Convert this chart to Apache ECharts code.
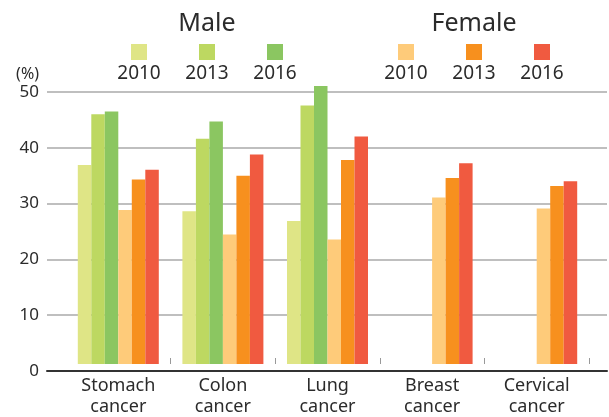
<!DOCTYPE html>
<html>
<head>
<meta charset="utf-8">
<script src="https://cdn.jsdelivr.net/npm/echarts@6/dist/echarts.min.js"></script>
<style>
  html, body { margin: 0; padding: 0; background: #fff; }
  #chart { width: 609px; height: 417px; }
</style>
</head>
<body>
<div id="chart"></div>
<script>
var categories = ['Stomach\ncancer', 'Colon\ncancer', 'Lung\ncancer', 'Breast\ncancer', 'Cervical\ncancer'];
var years = ['2010', '2013', '2016'];
var yTicks = [0, 10, 20, 30, 40, 50];

// values (%)
var male2010 = [36.6, 28.1, 26.3, null, null];
var male2013 = [45.9, 41.4, 47.5, null, null];
var male2016 = [46.4, 44.6, 51.1, null, null];
var female2010 = [28.3, 23.8, 22.9, 30.6, 28.6];
var female2013 = [33.9, 34.6, 37.5, 34.2, 32.7];
var female2016 = [35.7, 38.5, 41.8, 36.9, 33.6];

var maleColors = ['#dfe586', '#bdd861', '#8bc661'];
var femaleColors = ['#fecb7a', '#f7901e', '#f05a40'];

var font = '"Noto Sans", sans-serif';
var textColor = '#2b2b2b';

var groups = [
    {title: 'Male', values: [male2010, male2013, male2016], colors: maleColors, x: [139, 207, 275], titleX: 207},
    {title: 'Female', values: [female2010, female2013, female2016], colors: femaleColors, x: [406, 474, 542], titleX: 474}
];

var series = [];
var legends = [];
var graphics = [];
groups.forEach(function (g) {
    graphics.push({
        type: 'text', x: g.titleX, y: 24,
        style: {text: g.title, font: '25px ' + font, fill: textColor, textAlign: 'center', textVerticalAlign: 'middle'}
    });
    years.forEach(function (y, i) {
        var name = g.title + ' ' + y;
        series.push({
            name: name,
            type: 'bar',
            xAxisIndex: 1,
            yAxisIndex: 1,
            data: g.values[i],
            barWidth: 13.5,
            barGap: 0,
            clip: false,
            itemStyle: {color: g.colors[i]},
            emphasis: {disabled: true}
        });
        legends.push({
            data: [name],
            left: g.x[i] - 8,
            top: 44,
            padding: 0,
            itemWidth: 16,
            itemHeight: 16,
            icon: 'rect',
            selectedMode: false,
            formatter: function () { return ''; }
        });
        graphics.push({
            type: 'text',
            x: g.x[i], y: 74,
            style: {text: y, font: '19px ' + font, fill: textColor, textAlign: 'center', textVerticalAlign: 'middle'}
        });
    });
});

var myChart = echarts.init(document.getElementById('chart'));
myChart.setOption({
    animation: false,
    textStyle: {fontFamily: font},
    legend: legends,
    graphic: graphics,
    grid: [
        {left: 47, right: 2, top: 92, bottom: 46},
        {left: 66, right: 20, top: 92, bottom: 46}
    ],
    xAxis: [
        {
            gridIndex: 0,
            type: 'category',
            data: [''],
            axisLine: {show: true, lineStyle: {color: '#333', width: 2}},
            axisTick: {show: false},
            axisLabel: {show: false},
            z: 3
        },
        {
            gridIndex: 1,
            type: 'category',
            data: categories,
            axisLine: {show: false},
            axisTick: {
                show: true, inside: true, length: 6,
                lineStyle: {color: '#999', width: 1},
                interval: function (index) { return index > 0; }
            },
            axisLabel: {fontSize: 18, lineHeight: 21, color: textColor, margin: 11, interval: 0}
        }
    ],
    yAxis: [
        {
            gridIndex: 0,
            type: 'value',
            min: yTicks[0],
            max: yTicks[yTicks.length - 1],
            interval: yTicks[1] - yTicks[0],
            name: '(%)',
            nameLocation: 'end',
            nameGap: 10,
            nameTextStyle: {fontSize: 16, color: textColor, align: 'right', verticalAlign: 'bottom', padding: [0, 8, 0, 0]},
            axisLine: {show: false},
            axisTick: {show: false},
            axisLabel: {fontSize: 17, color: textColor, margin: 8},
            splitLine: {lineStyle: {color: '#aaa', width: 1.5}}
        },
        {
            gridIndex: 1,
            type: 'value',
            min: yTicks[0],
            max: yTicks[yTicks.length - 1],
            show: false,
            splitLine: {show: false}
        }
    ],
    series: series
});
</script>
</body>
</html>
